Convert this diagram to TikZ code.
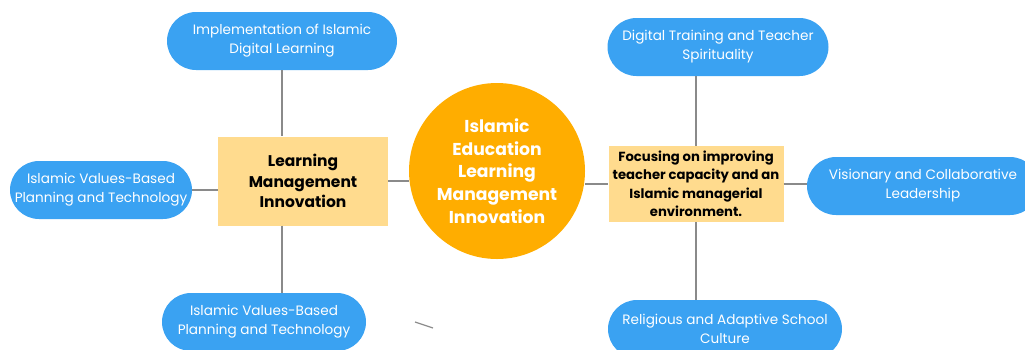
\documentclass[tikz,border=0pt]{standalone}
\usepackage{fontspec}
\setmainfont{Poppins}
\usetikzlibrary{positioning}

\definecolor{pillblue}{HTML}{3AA2F2}
\definecolor{boxyellow}{HTML}{FFDB8E}
\definecolor{huborange}{HTML}{FFAD00}
\definecolor{linkgray}{HTML}{8A8A8A}

\begin{document}
\begin{tikzpicture}[ x = 1pt
                     , y = -1pt
                     , every node/.style = { align          = center
                                           , inner sep      = 0pt
                                           }
                     , font = \fontsize{13.6}{19}\selectfont
                     ]

  %%
  %% Node types
  %%
  \tikzset{ pill/.style={ rectangle, rounded corners=29pt, fill=pillblue
                        , text=white, minimum height=58pt}
          , topic/.style={ rectangle, fill=boxyellow, text=black
                         , font=\fontsize{15.5}{20.5}\selectfont\bfseries}
          , hub/.style={ circle, fill=huborange, text=white, minimum size=176pt
                       , font=\fontsize{17.2}{22.8}\selectfont\bfseries}
          }

  %%
  %% Link types
  %%
  \tikzset{ link/.style={draw=linkgray, line width=1.2pt}
          }

  \useasboundingbox (0,0) rectangle (1025,349);

  %%
  %% Nodes
  %%
  \node (hub) [hub] at (497,171) {Islamic\\Education\\Learning\\Management\\Innovation};

  \node (lmi) [topic, minimum width=170pt, minimum height=89pt] at (303,181)
        {Learning\\Management\\Innovation};
  \node (ftc) [topic, minimum width=175pt, minimum height=76pt
              , font=\fontsize{13.2}{18.5}\selectfont\bfseries] at (696,184)
        {Focusing on improving\\teacher capacity and an\\Islamic managerial\\environment.};

  %%% Left side
  \node (idl) [pill, minimum width=230pt] at (282,41)  {Implementation of Islamic\\Digital Learning};
  \node (ivp) [pill, minimum width=182pt] at (101,190) {Islamic Values-Based\\Planning and Technology};
  \node (ivb) [pill, minimum width=204pt] at (264,322) {Islamic Values-Based\\Planning and Technology};

  %%% Right side
  \node (dtt) [pill, minimum width=221pt] at (718,47)  {Digital Training and Teacher\\Spirituality};
  \node (vcl) [pill, minimum width=232pt] at (923,186) {Visionary and Collaborative\\Leadership};
  \node (ras) [pill, minimum width=234pt] at (725,329) {Religious and Adaptive School\\Culture};

  \coordinate (s1) at (415,322);
  \coordinate (s2) at (433,328);

  %%
  %% Links between nodes
  %%
  \path[link] (idl.south) -- (idl.south |- lmi.north);
  \path[link] (idl.south |- lmi.south) -- (idl.south |- ivb.north);
  \path[link] (ivp.east) -- (ivp.east -| lmi.west);
  \path[link] (lmi.east) -- (lmi.east -| hub.west);

  \path[link] (hub.east |- ftc) -- (ftc.west);
  \path[link] (dtt.south -| ftc) -- (ftc.north);
  \path[link] (ftc.south) -- (ras.north -| ftc);
  \path[link] (ftc.east) -- (ftc.east -| vcl.west);

  \path[link] (s1) -- (s2);

\end{tikzpicture}
\end{document}
